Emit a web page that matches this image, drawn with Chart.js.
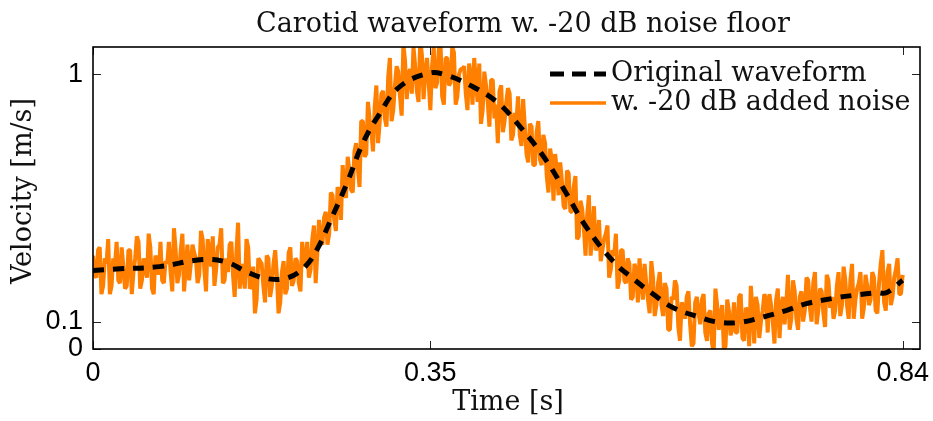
<!DOCTYPE html>
<html lang="en">
<head>
    <meta charset="UTF-8">
    <title>Carotid waveform</title>
    <script src="https://cdn.jsdelivr.net/npm/chart.js"></script>
    <style>
        body {
            margin: 0;
            background-color: #fff;
        }
    </style>
</head>
<body>
    <canvas id="waveChart" width="933" height="421"></canvas>
    <script>
        // clean waveform
        const waveTime = [0, 0.028, 0.069, 0.114, 0.139, 0.16, 0.181, 0.202, 0.22, 0.233, 0.245, 0.263, 0.28, 0.297, 0.318, 0.349, 0.366, 0.391, 0.419, 0.443, 0.47, 0.491, 0.512, 0.539, 0.56, 0.581, 0.601, 0.629, 0.65, 0.671, 0.695, 0.719, 0.74, 0.767, 0.788, 0.813, 0.823, 0.84];
        const waveVel = [0.286, 0.292, 0.30, 0.326, 0.316, 0.28, 0.256, 0.259, 0.30, 0.366, 0.457, 0.60, 0.75, 0.855, 0.955, 1.005, 0.998, 0.961, 0.90, 0.81, 0.688, 0.567, 0.443, 0.322, 0.257, 0.20, 0.152, 0.116, 0.097, 0.097, 0.116, 0.14, 0.165, 0.184, 0.195, 0.205, 0.205, 0.25];

        // noisy samples: even ones every 3.5 ms, odd ones halfway between
        const noiseStep = 0.0035;
        const noisyEven = [
            0.34, 0.26, 0.37, 0.23, 0.31, 0.20, 0.33, 0.39, 0.24, 0.30,
            0.23, 0.36, 0.28, 0.41, 0.22, 0.33, 0.26, 0.37, 0.20, 0.32,
            0.39, 0.24, 0.31, 0.28, 0.44, 0.24, 0.36, 0.21, 0.38, 0.31,
            0.35, 0.24, 0.43, 0.29, 0.40, 0.30, 0.23, 0.37, 0.44, 0.25,
            0.28, 0.39, 0.19, 0.46, 0.31, 0.22, 0.37, 0.23, 0.13, 0.33,
            0.31, 0.17, 0.33, 0.23, 0.36, 0.13, 0.28, 0.20, 0.35, 0.23,
            0.33, 0.24, 0.39, 0.30, 0.26, 0.40, 0.24, 0.47, 0.38, 0.50,
            0.42, 0.56, 0.43, 0.57, 0.67, 0.55, 0.65, 0.57, 0.75, 0.59,
            0.83, 0.71, 0.84, 0.72, 0.96, 0.83, 0.94, 0.81, 1.06, 0.87,
            1.03, 0.92, 1.11, 0.91, 1.02, 1.10, 0.94, 1.13, 0.91, 1.06,
            0.87, 1.10, 0.97, 1.12, 0.89, 1.06, 0.97, 1.08, 0.92, 1.02,
            1.03, 0.87, 0.99, 1.06, 0.90, 0.82, 1.01, 0.90, 0.98, 0.84,
            0.75, 0.96, 0.83, 0.95, 0.76, 0.86, 0.92, 0.74, 0.81, 0.68,
            0.81, 0.67, 0.83, 0.67, 0.75, 0.57, 0.69, 0.71, 0.56, 0.61,
            0.51, 0.64, 0.50, 0.63, 0.41, 0.51, 0.34, 0.56, 0.42, 0.36,
            0.47, 0.36, 0.42, 0.26, 0.36, 0.42, 0.25, 0.36, 0.24, 0.31,
            0.19, 0.29, 0.33, 0.18, 0.24, 0.13, 0.26, 0.16, 0.28, 0.12,
            0.22, 0.07, 0.18, 0.23, 0.03, 0.15, 0.19, 0.09, 0.02, 0.19,
            0.09, 0.20, 0.03, 0.14, -0.01, 0.16, 0.12, 0.00, 0.18, 0.05,
            0.17, 0.06, 0.20, 0.03, 0.14, 0.23, 0.02, 0.16, 0.10, 0.20,
            0.06, 0.16, 0.02, 0.22, 0.15, 0.09, 0.27, 0.11, 0.21, 0.07,
            0.21, 0.14, 0.25, 0.10, 0.28, 0.14, 0.21, 0.08, 0.25, 0.19,
            0.14, 0.28, 0.16, 0.25, 0.11, 0.31, 0.18, 0.24, 0.11, 0.27,
            0.16, 0.28, 0.14, 0.24, 0.36, 0.14, 0.31, 0.19, 0.29, 0.20, 0.27
        ];
        const noisyOdd = [
            0.27, 0.36, 0.20, 0.33, 0.40, 0.23, 0.30, 0.25, 0.37, 0.22,
            0.36, 0.20, 0.33, 0.39, 0.25, 0.29, 0.42, 0.22, 0.34, 0.27,
            0.25, 0.32, 0.39, 0.21, 0.36, 0.27, 0.42, 0.30, 0.25, 0.38,
            0.33, 0.27, 0.40, 0.21, 0.36, 0.41, 0.29, 0.38, 0.24, 0.33,
            0.38, 0.27, 0.35, 0.22, 0.27, 0.40, 0.22, 0.30, 0.18, 0.32,
            0.23, 0.34, 0.19, 0.31, 0.27, 0.17, 0.32, 0.22, 0.37, 0.25,
            0.32, 0.21, 0.33, 0.39, 0.29, 0.45, 0.35, 0.39, 0.48, 0.38,
            0.57, 0.47, 0.59, 0.47, 0.60, 0.70, 0.58, 0.72, 0.66, 0.83,
            0.70, 0.90, 0.79, 0.88, 0.75, 0.93, 0.84, 0.99, 0.83, 0.96,
            1.01, 0.85, 1.05, 1.00, 0.93, 1.03, 0.90, 1.07, 1.01, 0.97,
            1.03, 0.95, 1.09, 0.92, 1.06, 0.96, 1.10, 0.89, 1.00, 1.02,
            0.93, 1.04, 0.89, 0.97, 1.04, 0.87, 0.96, 0.81, 0.98, 0.89,
            0.94, 0.79, 0.90, 0.93, 0.78, 0.83, 0.78, 0.91, 0.71, 0.82,
            0.67, 0.79, 0.69, 0.78, 0.63, 0.73, 0.54, 0.65, 0.68, 0.52,
            0.65, 0.50, 0.59, 0.40, 0.54, 0.44, 0.49, 0.34, 0.52, 0.37,
            0.32, 0.40, 0.45, 0.29, 0.34, 0.22, 0.36, 0.25, 0.33, 0.18,
            0.31, 0.17, 0.24, 0.31, 0.18, 0.32, 0.12, 0.24, 0.16, 0.24,
            0.07, 0.19, 0.25, 0.08, 0.17, 0.11, 0.21, 0.01, 0.17, 0.13,
            0.18, 0.06, 0.13, 0.02, 0.22, 0.07, 0.16, 0.01, 0.14, 0.08,
            0.06, 0.19, 0.04, 0.15, 0.01, 0.14, 0.19, 0.04, 0.14, 0.18,
            0.20, 0.10, 0.18, 0.04, 0.19, 0.16, 0.07, 0.25, 0.11, 0.19,
            0.10, 0.26, 0.15, 0.24, 0.09, 0.22, 0.13, 0.27, 0.15, 0.11,
            0.23, 0.12, 0.30, 0.16, 0.25, 0.11, 0.22, 0.28, 0.15, 0.23,
            0.18, 0.26, 0.13, 0.31, 0.17, 0.28, 0.16, 0.26, 0.33, 0.20
        ];

        const xTicks = [0, 0.35, 0.84];
        const yTicks = [0, 0.1, 1];
        const seriesNames = ['Original waveform', 'w. -20 dB added noise'];

        const orange = '#FF7F00';
        const serif = '"DejaVu Serif", serif';
        const sans = '"Liberation Sans", Arial, sans-serif';

        const wavePoints = waveTime.map((t, i) => ({ x: t, y: waveVel[i] }));
        const noisyPoints = [];
        noisyEven.forEach((v, i) => {
            noisyPoints.push({ x: i * noiseStep, y: v });
            if (i < noisyOdd.length) {
                noisyPoints.push({ x: (i + 0.5) * noiseStep, y: noisyOdd[i] });
            }
        });

        // box, inner ticks, titles and legend in the matlab look
        const figurePlugin = {
            id: 'figure',
            afterDraw(chart) {
                const ctx = chart.ctx;
                const area = chart.chartArea;
                const xs = chart.scales.x;
                const ys = chart.scales.y;
                ctx.save();

                ctx.strokeStyle = '#222';
                ctx.lineWidth = 1;
                ctx.beginPath();
                xTicks.forEach(v => {
                    const px = Math.round(xs.getPixelForValue(v)) + 0.5;
                    ctx.moveTo(px, area.bottom); ctx.lineTo(px, area.bottom - 8);
                    ctx.moveTo(px, area.top); ctx.lineTo(px, area.top + 8);
                });
                yTicks.forEach(v => {
                    const py = Math.round(ys.getPixelForValue(v)) + 0.5;
                    ctx.moveTo(area.left, py); ctx.lineTo(area.left + 8, py);
                    ctx.moveTo(area.right, py); ctx.lineTo(area.right - 8, py);
                });
                ctx.stroke();

                ctx.strokeStyle = '#000';
                ctx.lineWidth = 1.6;
                ctx.strokeRect(area.left, area.top, area.right - area.left, area.bottom - area.top);

                ctx.fillStyle = '#111';
                ctx.font = '27px ' + serif;
                ctx.textAlign = 'center';
                ctx.textBaseline = 'alphabetic';
                ctx.fillText('Carotid waveform w. -20 dB noise floor', 523, 32);
                ctx.fillText('Time [s]', 508, 410);

                ctx.save();
                ctx.translate(24, 191);
                ctx.rotate(-Math.PI / 2);
                ctx.textBaseline = 'middle';
                ctx.fillText('Velocity [m/s]', 0, 0);
                ctx.restore();

                // legend
                const rows = [74, 103];
                ctx.lineCap = 'butt';
                ctx.strokeStyle = '#000';
                ctx.lineWidth = 5;
                ctx.setLineDash([14, 8]);
                ctx.beginPath();
                ctx.moveTo(550, rows[0]); ctx.lineTo(606, rows[0]);
                ctx.stroke();
                ctx.setLineDash([]);
                ctx.strokeStyle = orange;
                ctx.lineWidth = 3.5;
                ctx.beginPath();
                ctx.moveTo(550, rows[1]); ctx.lineTo(606, rows[1]);
                ctx.stroke();

                ctx.textAlign = 'left';
                ctx.textBaseline = 'middle';
                seriesNames.forEach((name, i) => ctx.fillText(name, 611, rows[i]));
                ctx.restore();
            }
        };

        const ctx = document.getElementById('waveChart').getContext('2d');
        const waveChart = new Chart(ctx, {
            type: 'line',
            data: {
                datasets: [{
                    label: seriesNames[0],
                    data: wavePoints,
                    borderColor: '#000',
                    borderWidth: 5,
                    borderDash: [11, 9],
                    tension: 0.4,
                    pointRadius: 0,
                    clip: 0
                }, {
                    label: seriesNames[1],
                    data: noisyPoints,
                    borderColor: orange,
                    borderWidth: 4,
                    borderJoinStyle: 'bevel',
                    tension: 0,
                    pointRadius: 0,
                    clip: 0
                }]
            },
            options: {
                responsive: false,
                animation: false,
                events: [],
                layout: {
                    padding: { top: 47, right: 13, left: 0, bottom: 0 }
                },
                plugins: {
                    legend: { display: false },
                    title: { display: false },
                    tooltip: { enabled: false }
                },
                scales: {
                    x: {
                        type: 'linear',
                        min: 0,
                        max: 0.858,
                        afterFit: s => { s.height = 72; },
                        afterBuildTicks: s => { s.ticks = xTicks.map(v => ({ value: v })); },
                        grid: { display: false },
                        border: { display: false },
                        ticks: {
                            padding: 0,
                            maxRotation: 0,
                            autoSkip: false,
                            color: '#000',
                            font: { family: sans, size: 27 },
                            callback: v => String(v)
                        }
                    },
                    y: {
                        min: 0,
                        max: 1.1,
                        afterFit: s => { s.width = 93; },
                        afterBuildTicks: s => { s.ticks = yTicks.map(v => ({ value: v })); },
                        grid: { display: false },
                        border: { display: false },
                        ticks: {
                            padding: 2,
                            autoSkip: false,
                            color: '#000',
                            font: { family: sans, size: 27 },
                            callback: v => String(v)
                        }
                    }
                }
            },
            plugins: [figurePlugin]
        });
    </script>
</body>
</html>
